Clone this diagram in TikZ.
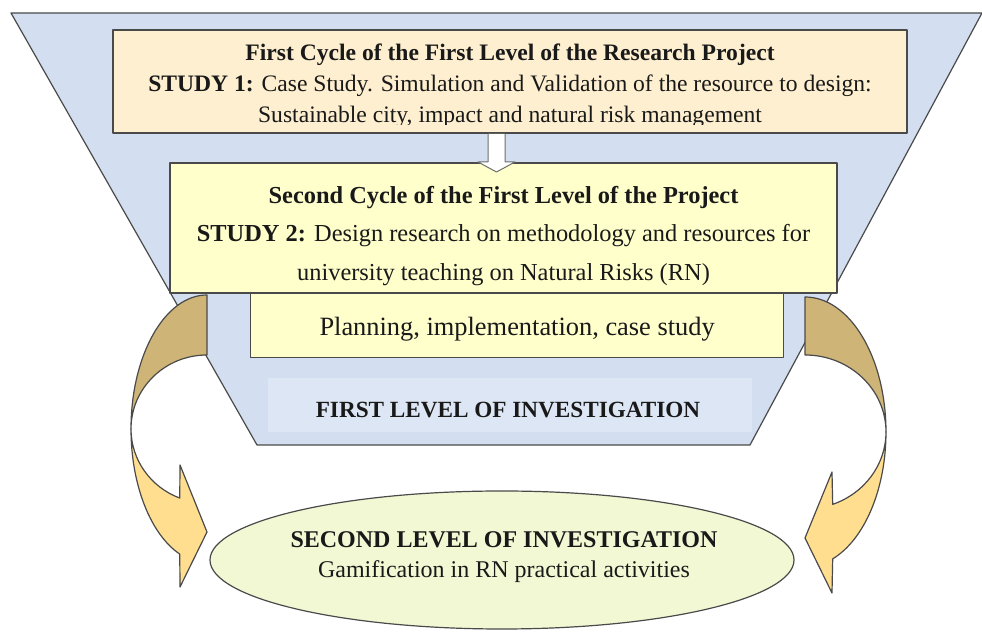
\documentclass[tikz,border=0pt]{standalone}
\usepackage{fontspec}
\setmainfont{Liberation Serif}
\usetikzlibrary{positioning,shapes.geometric}

\definecolor{funnelblue}{HTML}{D3DFF0}
\definecolor{levelblue}{HTML}{DCE6F4}
\definecolor{peach}{HTML}{FDEFCF}
\definecolor{paleyellow}{HTML}{FFFFCC}
\definecolor{palegreen}{HTML}{F2F8D3}
\definecolor{backbrown}{HTML}{CFB478}
\definecolor{frontyellow}{HTML}{FFDF8F}
\definecolor{edgegray}{HTML}{4A4A4A}

\tikzset{
  cyclebox/.style={draw=edgegray, line width=0.6pt, inner sep=0pt, align=center},
  cycletext/.style={inner sep=0pt, align=center, text=black!90},
  bendarrow/.style={draw=edgegray, line width=0.6pt},
}

\begin{document}
\begin{tikzpicture}[x=0.5pt,y=-0.5pt, line join=round]
\useasboundingbox (0,0) rectangle (982,635);
% funnel of the first level
\draw[draw=edgegray, line width=0.6pt, fill=funnelblue] (11,13) -- (982,13) -- (750,445) -- (257,445) -- cycle;
\node[fill=levelblue, inner sep=0pt, minimum width=242pt, minimum height=27pt] (firstlevel) at (510,405) {};
\node[cycletext, font=\fontsize{11.6}{13}\selectfont\bfseries] (firstleveltext) at (508,410) {FIRST LEVEL OF INVESTIGATION};
% first cycle
\node[cyclebox, fill=peach, minimum width=397pt, minimum height=51.5pt] (cycleone) at (510,81.5) {};
\begin{scope}
  \clip (113,30) rectangle (907,125);
  \node[cycletext, font=\fontsize{11.8}{15.5}\selectfont] (cycleonetext) at (510,86) {\textbf{First Cycle of the First Level of the Research Project}\\
    \textbf{STUDY 1:} Case Study. Simulation and Validation of the resource to design:\\
    Sustainable city, impact and natural risk management};
\end{scope}
% second cycle
\node[cyclebox, fill=paleyellow, minimum width=333.5pt, minimum height=65pt] (cycletwo) at (503.5,228) {};
\node[cycletext, font=\fontsize{12.2}{19.3}\selectfont] (cycletwotext) at (503.5,236) {\textbf{Second Cycle of the First Level of the Project}\\
  \textbf{STUDY 2:} Design research on methodology and resources for\\
  university teaching on Natural Risks (RN)};
\node[cyclebox, fill=paleyellow, anchor=north west, minimum width=266.5pt, minimum height=32pt] (planning) at (250,293) {};
\node[cycletext, font=\fontsize{13.2}{14}\selectfont] (planningtext) at ([yshift=-2]planning.center) {Planning, implementation, case study};
% white arrow between the cycles
\draw[draw=edgegray!80, line width=0.5pt, fill=white] (488,134) -- (488,162) -- (478,162) -- (496.5,172) -- (515,162) -- (505,162) -- (505,134);
% second level
\node[ellipse, draw=edgegray, line width=0.6pt, fill=palegreen, inner sep=0pt, minimum width=292pt, minimum height=69pt] (secondlevel) at (502,560) {};
\node[cycletext, font=\fontsize{12}{15}\selectfont] (secondleveltext) at (504,557) {\textbf{SECOND LEVEL OF INVESTIGATION}\\
  Gamification in RN practical activities};
% left bent arrow
\draw[bendarrow, fill=backbrown] (207,295) arc[start angle=-90, end angle=-180, x radius=76, y radius=134]
  arc[start angle=180, end angle=270, x radius=76, y radius=74] -- cycle;
\draw[bendarrow, fill=frontyellow] (131,429) arc[start angle=180, end angle=111, x radius=76, y radius=134]
  -- (180,587) -- (207,532) -- (180,465) -- ([shift={(207,429)}]111:76 and 74)
  arc[start angle=111, end angle=180, x radius=76, y radius=74] -- cycle;
% right bent arrow
\draw[bendarrow, fill=backbrown] (805,297) arc[start angle=-90, end angle=0, x radius=81, y radius=135]
  arc[start angle=0, end angle=-90, x radius=81, y radius=77] -- cycle;
\draw[bendarrow, fill=frontyellow] (886,432) arc[start angle=0, end angle=70, x radius=81, y radius=135]
  -- (832,593) -- (805,538) -- (832,472) -- ([shift={(805,432)}]70:81 and 77)
  arc[start angle=70, end angle=0, x radius=81, y radius=77] -- cycle;
\end{tikzpicture}
\end{document}
